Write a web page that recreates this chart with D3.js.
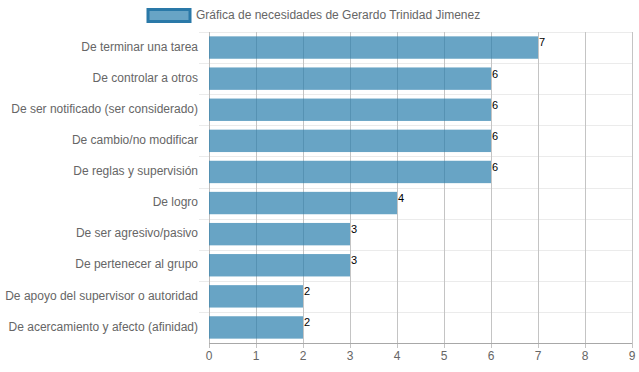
<!DOCTYPE html>
<html><head><meta charset="utf-8">
<script src="https://cdn.jsdelivr.net/npm/d3@7"></script>
<style>body{margin:0;background:#fff}svg{display:block;font-family:"Liberation Sans",Arial,sans-serif}</style>
</head><body><svg id="c" width="639" height="372"></svg>
<script>
const categories = ["De terminar una tarea","De controlar a otros","De ser notificado (ser considerado)","De cambio/no modificar","De reglas y supervisión","De logro","De ser agresivo/pasivo","De pertenecer al grupo","De apoyo del supervisor o autoridad","De acercamiento y afecto (afinidad)"];
const values = [7,6,6,6,6,4,3,3,2,2];
const xTicks = [0,1,2,3,4,5,6,7,8,9];
const seriesName = "Gráfica de necesidades de Gerardo Trinidad Jimenez";

const svg = d3.select("#c");
const m = {l:209, r:632, t:32, b:343};
const x = d3.scaleLinear().domain([0,9]).range([m.l, m.r]);
const y = d3.scaleBand().domain(categories).range([m.t, m.b]);
const barH = y.bandwidth()*0.72;

// horizontal grid (category boundaries)
const hLines = categories.map((c,i)=>y(c)).concat([m.b]);
svg.append("g").selectAll("line").data(hLines.slice(1,-1).concat([m.t])).join("line")
  .attr("x1", m.l-10).attr("x2", m.r).attr("y1", d=>Math.round(d)+0.5).attr("y2", d=>Math.round(d)+0.5)
  .attr("stroke","#ebebeb").attr("stroke-width",1);

// vertical grid
svg.append("g").selectAll("line").data(xTicks).join("line")
  .attr("x1", d=>Math.round(x(d))+0.5).attr("x2", d=>Math.round(x(d))+0.5)
  .attr("y1", m.t).attr("y2", m.b+5)
  .attr("stroke", d=> d===0 ? "#bdbdbd" : "#c4c4c4").attr("stroke-width",1);

// bottom axis line
svg.append("line").attr("x1", m.l).attr("x2", m.r).attr("y1", Math.round(m.b)+0.5).attr("y2", Math.round(m.b)+0.5)
  .attr("stroke","#a8a8a8");

// bars
svg.append("g").selectAll("rect").data(values).join("rect")
  .attr("x", x(0)).attr("y",(d,i)=>y(categories[i])+(y.bandwidth()-barH)/2)
  .attr("width", d=>x(d)-x(0)).attr("height", barH)
  .attr("fill","rgba(40,126,172,0.7)");

// value labels
svg.append("g").selectAll("text").data(values).join("text")
  .attr("x", d=>x(d)+1).attr("y",(d,i)=>y(categories[i])+y.bandwidth()/2-4)
  .attr("dominant-baseline","middle").attr("font-size",11).attr("fill","#000").text(d=>d);

// category labels
svg.append("g").selectAll("text").data(categories).join("text")
  .attr("x", 198).attr("y", d=>y(d)+y.bandwidth()/2)
  .attr("text-anchor","end").attr("dominant-baseline","middle")
  .attr("font-size",12).attr("fill","#666").text(d=>d);

// x tick labels
svg.append("g").selectAll("text").data(xTicks).join("text")
  .attr("x", d=>x(d)).attr("y", 357)
  .attr("text-anchor","middle").attr("dominant-baseline","middle")
  .attr("font-size",12).attr("fill","#666").text(d=>d);

// legend
svg.append("rect").attr("x",148).attr("y",9.5).attr("width",42).attr("height",12)
  .attr("fill","rgba(40,126,172,0.7)").attr("stroke","#2a79a8").attr("stroke-width",3);
svg.append("text").attr("x",196).attr("y",16).attr("dominant-baseline","middle")
  .attr("font-size",12).attr("fill","#666").text(seriesName);
</script></body></html>
